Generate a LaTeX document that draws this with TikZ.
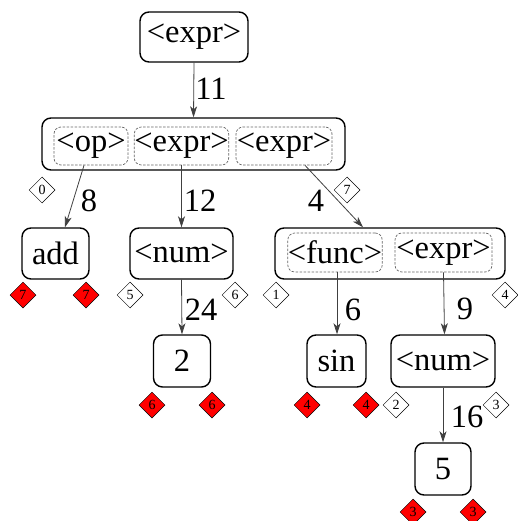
\documentclass[tikz,border=0pt]{standalone}
\usepackage{fontspec}
\setmainfont{Liberation Serif}
\usetikzlibrary{shapes.geometric,arrows.meta}
\begin{document}
\begin{tikzpicture}[x=1pt,y=-1pt,
  box/.style={draw,line width=1.4pt,rounded corners=9pt,inner sep=0pt,font=\fontsize{32.5}{33}\selectfont},
  sub/.style={draw=black!60,dash pattern=on 2.5pt off 1.5pt,line width=0.7pt,rounded corners=7pt,inner sep=0pt,font=\fontsize{32.5}{33}\selectfont},
  arr/.style={draw=black!75,line width=0.8pt,-{Stealth[length=11pt,width=7pt,inset=3pt]}},
  lbl/.style={font=\fontsize{32.5}{33}\selectfont,inner sep=0pt},
  wd/.style={draw,diamond,line width=0.5pt,minimum width=26pt,minimum height=26pt,inner sep=0pt,font=\fontsize{14}{14}\selectfont,fill=white},
  rd/.style={wd,fill=red}]
\useasboundingbox (0,0) rectangle (518,521);
% top level
\node[box,minimum width=108pt,minimum height=50pt] (root) at (194,37) {<expr>};
\node[box,minimum width=303pt,minimum height=52pt] (big) at (193.5,144) {};
\node[sub,minimum width=74pt,minimum height=38pt] (op) at (91,146) {<op>};
\node[sub,minimum width=93pt,minimum height=38pt] (ea) at (181.5,146) {<expr>};
\node[sub,minimum width=96pt,minimum height=38pt] (eb) at (284,146) {<expr>};
% second level
\node[box,minimum width=67pt,minimum height=51pt] (add) at (55.5,253.5) {add};
\node[box,minimum width=103pt,minimum height=51pt] (num) at (181.5,253.5) {<num>};
\node[box,minimum width=230pt,minimum height=51pt] (fb) at (390,253.5) {};
\node[sub,minimum width=94pt,minimum height=39pt] (func) at (335,252.5) {<func>};
\node[sub,minimum width=97pt,minimum height=39pt] (ec) at (443.5,252.5) {<expr>};
% third level
\node[box,minimum width=57pt,minimum height=52pt] (two) at (182,361) {2};
\node[box,minimum width=59pt,minimum height=52pt] (sin) at (336.5,361) {sin};
\node[box,minimum width=104pt,minimum height=52pt] (num2) at (443,361) {<num>};
\node[box,minimum width=56pt,minimum height=52pt] (five) at (443,469) {5};
% connectors
\draw[arr] (root.south) -- (big.north);
\draw[arr] ([xshift=-7pt]op.south) -- ([xshift=9.5pt]add.north);
\draw[arr] (ea.south) -- (num.north);
\draw[arr] ([xshift=21pt]eb.south) -- ([xshift=-27pt]fb.north);
\draw[arr] (num.south) -- (two.north);
\draw[arr] ([xshift=2pt]func.south) -- ([xshift=0.5pt]sin.north);
\draw[arr] (ec.south) -- ([xshift=1.5pt]num2.north);
\draw[arr] (num2.south) -- (five.north);
% edge labels
\node[lbl] (l11) at (211,89) {11};
\node[lbl] (l8) at (89,201) {8};
\node[lbl] (l12) at (200,201) {12};
\node[lbl] (l4) at (316,201) {4};
\node[lbl] (l24) at (201,310) {24};
\node[lbl] (l6) at (353,310) {6};
\node[lbl] (l9) at (465,309) {9};
\node[lbl] (l16) at (467,417) {16};
% diamonds
\node[wd] (d0) at (42,190) {0};
\node[wd] (d7) at (347,190) {7};
\node[rd] (r7a) at (23,295) {7};
\node[rd] (r7b) at (86,295) {7};
\node[wd] (d5) at (130,295) {5};
\node[wd] (d6) at (235,295) {6};
\node[wd] (d1) at (276,295) {1};
\node[wd] (d4) at (505,295) {4};
\node[rd] (r6a) at (152,405) {6};
\node[rd] (r6b) at (212,405) {6};
\node[rd] (r4a) at (307,405) {4};
\node[rd] (r4b) at (366,405) {4};
\node[wd] (d2) at (396,405) {2};
\node[wd] (d3) at (496,405) {3};
\node[rd] (r3a) at (413,512) {3};
\node[rd] (r3b) at (473,512) {3};
\end{tikzpicture}
\end{document}
